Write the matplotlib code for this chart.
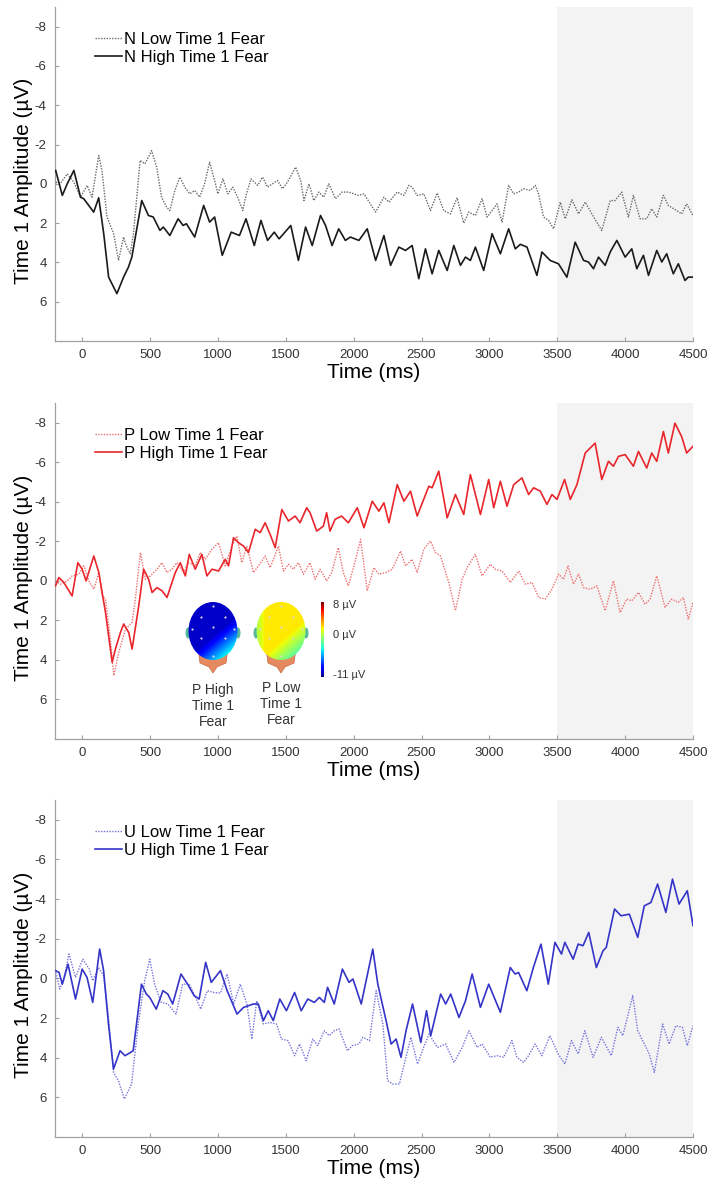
import numpy as np
import matplotlib
matplotlib.use("Agg")
import matplotlib.pyplot as plt
from matplotlib.patches import Ellipse, Polygon

plt.rcParams['font.family'] = ['Liberation Sans', 'DejaVu Sans']
plt.rcParams['axes.unicode_minus'] = False

# ---------------- data (time ms, amplitude µV) ----------------
N_LOW = [(-195,-0.08),(-159,-0.03),(-110,-0.51),(-61,-0.08),(-12,0.68),(37,0.08),(73,0.68),(122,-1.44),(146,-0.68),
         (183,1.69),(232,2.54),(268,3.9),(305,2.71),(324,3.14),(354,3.56),(378,2.54),(427,-1.19),(463,-1.02),(512,-1.69),
         (549,-0.85),(585,0.68),(622,1.19),(646,1.36),(683,0.34),(720,-0.34),(756,0.17),(793,0.51),(829,0.34),(866,0.68),
         (902,0.0),(939,-1.1),(976,-0.17),(1000,0.51),(1037,-0.25),(1073,0.51),(1110,0.17),(1146,0.68),(1183,1.36),
         (1207,0.59),(1244,-0.25),(1293,0.08),(1329,-0.34),(1366,0.17),(1402,0.0),(1439,-0.17),(1476,0.25),(1512,-0.08),
         (1573,-0.85),(1610,-0.17),(1634,0.85),(1671,0.0),(1707,0.85),(1744,0.42),(1780,0.68),(1817,0.0),(1866,0.76),
         (1915,0.42),(1963,0.42),(2037,0.59),(2076,0.51),(2162,1.44),(2223,0.68),(2260,0.93),(2321,0.42),(2370,0.59),
         (2407,0.08),(2431,0.17),(2468,0.59),(2517,0.51),(2566,1.36),(2615,0.47),(2664,1.36),(2713,1.53),(2762,0.71),
         (2811,2.0),(2848,1.44),(2897,1.61),(2946,0.76),(2983,1.69),(3020,1.36),(3056,1.02),(3093,1.95),(3142,0.08),
         (3179,0.51),(3216,0.42),(3252,0.25),(3301,0.34),(3338,0.08),(3362,0.51),(3399,1.69),(3436,1.86),(3473,2.29),
         (3522,0.93),(3559,1.78),(3608,0.81),(3657,1.53),(3706,0.93),(3768,1.69),(3828,2.37),(3890,0.85),(3926,0.85),
         (3975,0.42),(4024,1.69),(4061,0.59),(4110,1.78),(4159,1.78),(4196,1.27),(4233,1.69),(4282,0.59),(4318,1.1),
         (4380,1.36),(4416,1.53),(4453,1.02),(4500,1.61)]

N_HIGH = [(-195,-0.68),(-146,0.59),(-110,0.0),(-61,-0.68),(-12,0.68),(12,0.76),(85,1.44),(122,0.71),(159,2.54),
          (195,4.75),(256,5.59),(305,4.75),(341,4.24),(366,3.73),(439,0.85),(488,1.61),(524,1.69),(573,2.37),(598,2.2),
          (646,2.63),(707,1.78),(744,2.12),(768,2.03),(829,2.71),(895,1.1),(939,1.95),(976,1.69),(1032,3.64),(1098,2.46),
          (1159,2.63),(1207,1.78),(1268,3.14),(1317,1.86),(1366,2.88),(1415,2.46),(1451,2.8),(1537,2.12),(1593,3.9),
          (1646,2.2),(1695,3.14),(1756,1.61),(1793,2.12),(1841,3.14),(1890,2.29),(1939,2.88),(1976,2.71),(2039,2.88),
          (2100,2.29),(2162,3.9),(2223,2.63),(2272,4.15),(2333,3.22),(2382,3.39),(2431,3.14),(2480,4.83),(2529,3.31),
          (2578,4.58),(2627,3.39),(2689,4.41),(2738,3.14),(2787,4.15),(2824,3.73),(2860,3.9),(2897,3.22),(2958,4.41),
          (3020,2.54),(3081,3.56),(3142,2.29),(3191,3.31),(3228,3.08),(3277,3.22),(3350,4.66),(3387,3.47),(3448,3.9),
          (3509,4.07),(3571,4.75),(3632,2.97),(3694,3.9),(3730,3.98),(3767,4.32),(3804,3.73),(3853,4.15),(3890,3.47),
          (3939,2.88),(4000,3.73),(4049,3.31),(4086,4.32),(4135,3.64),(4172,4.66),(4233,3.39),(4270,3.98),(4306,3.56),
          (4355,4.58),(4392,4.07),(4441,4.92),(4465,4.75),(4500,4.75)]

P_LOW = [(-196,0.0),(-159,0.17),(-110,0.0),(-74,-0.25),(-25,-0.34),(12,-0.76),(49,0.0),(86,0.42),(123,-0.42),
         (147,0.76),(172,0.92),(208,2.94),(233,4.79),(270,3.61),(319,2.44),(368,2.1),(392,0.92),(429,-1.43),(466,-0.08),
         (502,-0.25),(551,-0.59),(588,-0.92),(625,-0.42),(662,-0.59),(698,-0.92),(747,-0.42),(784,-0.92),(833,-0.76),
         (870,-1.43),(907,-1.09),(956,-1.6),(1005,-1.93),(1054,-0.76),(1103,-1.76),(1140,-2.27),(1176,-0.92),(1213,-1.76),
         (1262,-0.42),(1299,-0.76),(1348,-1.26),(1385,-0.67),(1446,-1.76),(1483,-0.5),(1520,-0.84),(1556,-0.59),
         (1593,-0.92),(1630,-0.34),(1679,-0.92),(1716,-0.08),(1752,-0.59),(1801,0.0),(1838,-0.42),(1887,-1.68),
         (1924,-0.42),(1961,0.25),(2015,-1.09),(2051,-2.1),(2100,0.5),(2149,-0.67),(2186,-0.34),(2235,-0.42),
         (2284,-0.59),(2346,-1.51),(2382,-0.76),(2431,-1.09),(2468,-0.42),(2517,-1.6),(2566,-2.02),(2603,-1.43),
         (2640,-1.26),(2701,0.08),(2750,1.51),(2799,-0.08),(2836,-0.67),(2897,-1.34),(2946,-0.25),(3007,-0.84),
         (3044,-0.59),(3093,-0.5),(3154,0.08),(3216,-0.5),(3265,0.17),(3314,0.08),(3363,0.84),(3412,0.92),(3461,0.42),
         (3510,-0.34),(3547,-0.08),(3579,-0.76),(3620,0.17),(3657,-0.34),(3694,0.34),(3743,0.42),(3792,0.25),
         (3853,1.51),(3914,0.0),(3963,1.6),(4012,0.92),(4049,1.01),(4098,0.59),(4147,1.18),(4184,0.92),(4233,-0.25),
         (4294,1.34),(4343,0.92),(4392,1.09),(4429,0.84),(4465,1.93),(4500,1.09)]

P_HIGH = [(-196,0.25),(-172,-0.17),(-135,0.08),(-74,0.76),(-32,-0.92),(0,-0.59),(29,0.0),(86,-1.26),(123,-0.42),
          (172,1.6),(221,4.12),(245,3.45),(282,2.61),(306,2.18),(343,2.61),(368,3.45),(417,1.26),(453,-0.59),(490,-0.08),
          (515,0.59),(551,0.34),(588,0.5),(625,0.84),(686,-0.42),(723,-0.92),(760,-0.25),(789,-1.34),(833,-0.59),
          (882,-1.34),(919,-0.25),(956,-0.59),(1005,-0.5),(1054,-1.09),(1078,-0.76),(1115,-2.18),(1152,-1.93),
          (1189,-1.76),(1225,-1.43),(1275,-2.61),(1311,-2.44),(1348,-2.94),(1385,-2.35),(1422,-1.68),(1471,-3.61),
          (1520,-3.03),(1569,-3.28),(1605,-2.94),(1654,-3.7),(1679,-3.45),(1728,-2.52),(1777,-2.77),(1801,-3.45),
          (1826,-2.52),(1863,-3.11),(1911,-3.28),(1961,-2.94),(2027,-3.7),(2076,-2.69),(2137,-4.03),(2186,-3.53),
          (2223,-3.95),(2260,-2.94),(2321,-4.87),(2370,-4.03),(2419,-4.54),(2468,-3.28),(2554,-4.79),(2578,-4.71),
          (2627,-5.55),(2689,-3.19),(2750,-4.37),(2811,-3.36),(2860,-5.38),(2934,-3.36),(2995,-5.13),(3032,-3.7),
          (3081,-5.04),(3130,-3.78),(3179,-4.87),(3240,-5.21),(3289,-4.37),(3326,-4.71),(3375,-4.54),(3424,-3.87),
          (3461,-4.37),(3498,-4.12),(3554,-5.13),(3596,-4.12),(3645,-4.87),(3706,-6.47),(3779,-6.97),(3828,-5.13),
          (3877,-6.05),(3914,-5.8),(3951,-6.3),(4000,-6.39),(4061,-5.8),(4098,-6.55),(4159,-5.71),(4196,-6.47),
          (4233,-6.05),(4282,-7.56),(4318,-6.47),(4367,-7.98),(4416,-7.31),(4453,-6.47),(4500,-6.81)]

U_LOW = [(-194,-0.3),(-165,0.54),(-133,-0.05),(-97,-1.23),(-49,-0.05),(5,-0.97),(53,-0.47),(78,0.12),(121,-0.55),
         (158,-0.13),(194,1.97),(231,4.74),(267,5.16),(311,6.08),(364,5.33),(413,2.3),(461,0.12),(498,-0.97),(534,0.29),
         (582,1.21),(631,1.29),(692,1.8),(740,0.29),(789,0.29),(825,0.79),(874,1.55),(922,0.62),(971,0.71),(1019,0.74),
         (1068,-0.22),(1116,1.29),(1165,0.29),(1214,1.29),(1250,3.06),(1286,1.13),(1335,2.3),(1383,2.22),(1432,2.3),
         (1468,3.06),(1517,3.14),(1565,3.9),(1602,3.31),(1650,4.15),(1699,3.06),(1735,3.39),(1784,2.64),(1820,2.89),
         (1857,2.64),(1893,2.55),(1954,3.65),(1990,3.39),(2039,3.31),(2068,2.97),(2117,3.14),(2166,0.62),(2215,2.3),
         (2251,5.16),(2288,5.33),(2337,5.33),(2373,4.32),(2422,2.97),(2471,4.32),(2520,3.39),(2556,2.81),(2617,3.48),
         (2678,3.31),(2739,4.24),(2800,3.48),(2849,2.64),(2910,3.48),(2946,3.31),(3007,3.98),(3056,3.9),(3105,3.98),
         (3166,3.14),(3203,3.98),(3252,4.24),(3288,3.9),(3337,3.31),(3386,3.9),(3446,2.89),(3507,3.81),(3556,4.32),
         (3605,3.14),(3654,3.81),(3703,2.64),(3764,3.98),(3825,2.97),(3898,3.9),(3947,2.47),(3983,2.89),(4056,0.87),
         (4093,2.64),(4129,3.14),(4178,3.81),(4215,4.74),(4276,2.3),(4324,3.31),(4373,2.39),(4422,2.47),(4458,3.39),
         (4500,2.39)]

U_HIGH = [(-194,-0.39),(-170,-0.3),(-146,0.29),(-104,-0.72),(-49,1.04),(0,-0.47),(36,-0.05),(78,1.21),(129,-1.48),
          (158,-0.39),(194,2.3),(231,4.57),(279,3.65),(316,3.9),(376,3.65),(437,0.29),(473,0.79),(498,0.96),(546,1.55),
          (595,0.62),(631,0.79),(667,1.29),(728,-0.22),(777,0.29),(825,0.87),(862,1.04),(910,-0.81),(951,0.2),
          (1019,-0.39),(1068,0.62),(1141,1.8),(1189,1.46),(1262,1.29),(1298,1.29),(1335,2.13),(1371,1.63),(1408,2.13),
          (1456,1.04),(1505,1.63),(1565,0.71),(1614,1.63),(1662,1.04),(1711,1.21),(1747,0.96),(1784,1.21),(1808,0.45),
          (1857,1.29),(1917,-0.47),(1966,0.2),(1995,0.03),(2056,1.29),(2141,-1.48),(2178,0.29),(2239,2.13),(2276,3.31),
          (2313,3.06),(2349,3.98),(2386,2.64),(2434,1.29),(2495,3.23),(2537,1.63),(2568,2.89),(2641,0.79),(2678,1.29),
          (2715,0.79),(2776,1.97),(2824,1.13),(2873,-0.22),(2934,1.46),(2995,0.29),(3081,1.71),(3154,-0.55),(3190,-0.22),
          (3215,-0.3),(3276,0.62),(3324,-0.55),(3380,-1.73),(3434,0.29),(3483,-1.82),(3531,-1.23),(3556,-1.82),
          (3617,-0.97),(3654,-1.73),(3690,-1.65),(3732,-2.32),(3788,-0.55),(3837,-1.39),(3861,-1.56),(3922,-3.5),
          (3970,-3.16),(4031,-3.24),(4093,-2.07),(4141,-3.66),(4190,-3.83),(4239,-4.76),(4300,-3.33),(4349,-5.01),
          (4397,-3.75),(4458,-4.42),(4500,-2.66)]

X_TICKS = [0, 500, 1000, 1500, 2000, 2500, 3000, 3500, 4000, 4500]
Y_TICKS = [-8, -6, -4, -2, 0, 2, 4, 6]
SHADE = (3500, 4500)

PANELS = [
    dict(low=N_LOW, high=N_HIGH, low_lab="N Low Time 1 Fear", high_lab="N High Time 1 Fear",
         low_col="#6a6a6a", high_col="#1a1a1a", top=7, bottom=341),
    dict(low=P_LOW, high=P_HIGH, low_lab="P Low Time 1 Fear", high_lab="P High Time 1 Fear",
         low_col="#ee7070", high_col="#e8262c", top=403, bottom=739),
    dict(low=U_LOW, high=U_HIGH, low_lab="U Low Time 1 Fear", high_lab="U High Time 1 Fear",
         low_col="#7474dc", high_col="#3434c8", top=800, bottom=1137),
]

W, H = 709, 1190
fig = plt.figure(figsize=(W / 100, H / 100), dpi=100)

L, R = 55, 693
axes = []
for p in PANELS:
    ax = fig.add_axes([L / W, 1 - p['bottom'] / H, (R - L) / W, (p['bottom'] - p['top']) / H])
    axes.append(ax)
    ax.axvspan(*SHADE, color="#f3f3f3", zorder=0, lw=0)
    lt, lv = zip(*p['low'])
    ht, hv = zip(*p['high'])
    ax.plot(lt, lv, color=p['low_col'], lw=1.0, ls=(0, (1, 1)), label=p['low_lab'], zorder=3)
    ax.plot(ht, hv, color=p['high_col'], lw=1.2, ls='-', label=p['high_lab'], zorder=4,
            solid_joinstyle='round')
    ax.set_xlim(-200, 4500)
    ax.set_ylim(8, -9)
    ax.set_xticks(X_TICKS)
    ax.set_yticks(Y_TICKS)
    for s in ['top', 'right']:
        ax.spines[s].set_visible(False)
    for s in ['left', 'bottom']:
        ax.spines[s].set_color('#a0a0a0')
        ax.spines[s].set_linewidth(0.9)
    ax.tick_params(direction='in', length=3, color='#a0a0a0', labelsize=9.5, labelcolor='#333333', pad=6)
    ax.set_xlabel("Time (ms)", fontsize=15, labelpad=1)
    ax.set_ylabel("Time 1 Amplitude (µV)", fontsize=15, labelpad=0)
    ax.yaxis.set_label_coords(-0.034, 0.48)
    leg = ax.legend(loc='upper left', bbox_to_anchor=(0.063, 0.925), frameon=False, fontsize=12,
                    handlelength=1.6, handletextpad=0.1, labelspacing=0.15, borderpad=0, borderaxespad=0)

# ---------------- topographic inset (panel 2) ----------------
ix0, ix1, iy0, iy1 = 180, 380, 595, 735
iax = fig.add_axes([ix0 / W, 1 - iy1 / H, (ix1 - ix0) / W, (iy1 - iy0) / H])
iax.set_xlim(ix0, ix1)
iax.set_ylim(iy1, iy0)
iax.axis('off')

VMIN, VMAX = -11, 8
gx = np.linspace(-1, 1, 120)
gy = np.linspace(-1, 1, 140)
U, Wg = np.meshgrid(gx, gy)
diag = 0.6 * U + 0.8 * Wg
field_high = -9.8 + 7.0 * np.clip(diag - 0.15, 0, None)
field_low = 1.6 - 5.5 * np.clip(diag - 0.3, 0, None) - 6.0 * np.clip(-U - 0.65, 0, None)

HEADS = [(213, "P High\nTime 1\nFear", field_high, 706), (281, "P Low\nTime 1\nFear", field_low, 704)]
for cx, lab, fld, ty in HEADS:
    neck = Polygon([(cx - 15, 648), (cx + 15, 648), (cx + 13, 663), (cx + 4, 667), (cx, 673),
                    (cx - 4, 667), (cx - 13, 663)], closed=True, fc="#e58a5f", ec="#c86a44", lw=0.5, zorder=1)
    iax.add_patch(neck)
    for sx in (-1, 1):
        ear = Ellipse((cx + sx * 25, 633), 5, 11, fc="#58b89c", ec="none", zorder=1)
        iax.add_patch(ear)
    head = Ellipse((cx, 631), 49, 58, fc="none", ec="none", zorder=2)
    iax.add_patch(head)
    im = iax.imshow(fld, cmap='jet', vmin=VMIN, vmax=VMAX, extent=(cx - 25, cx + 25, 660, 602),
                    aspect='auto', zorder=2, interpolation='bilinear')
    im.set_clip_path(head)
    ex = [cx, cx - 12, cx + 12, cx, cx - 21, cx + 21, cx - 12, cx + 12, cx]
    ey = [606, 617, 617, 627, 629, 629, 638, 638, 656]
    iax.scatter(ex, ey, s=2.5, c="#d8d8d8", zorder=3, linewidths=0)
    iax.text(cx, ty, lab, ha='center', va='center', fontsize=10, color='#333333', linespacing=1.15)

cb = np.linspace(VMAX, VMIN, 100).reshape(-1, 1)
iax.imshow(cb, cmap='jet', vmin=VMIN, vmax=VMAX, extent=(321, 324, 677, 603), aspect='auto', zorder=2)
for yy, t in [(605, "8 µV"), (635, "0 µV"), (675, "-11 µV")]:
    iax.text(333, yy, t, ha='left', va='center', fontsize=8, color='#333333')

fig.savefig("out.png", dpi=100)
